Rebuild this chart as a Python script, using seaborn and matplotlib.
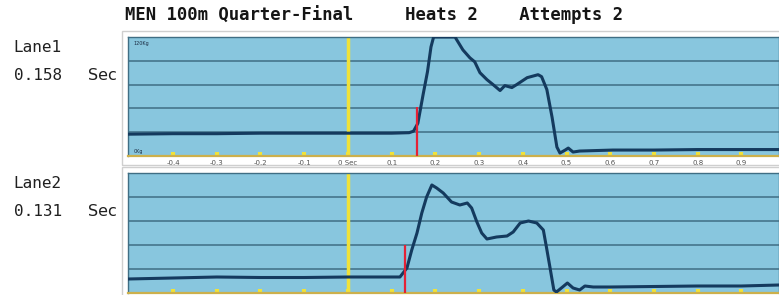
import numpy as np
import pandas as pd
import matplotlib
matplotlib.use("Agg")
import matplotlib.pyplot as plt
from matplotlib.patches import Rectangle
import seaborn as sns

# reaction force traces (kg vs seconds)
lane1_t = [-0.503, -0.4, -0.3, -0.2, -0.1, 0.0, 0.1, 0.14, 0.15, 0.16, 0.172, 0.182,
           0.19, 0.196, 0.245, 0.263, 0.279, 0.29, 0.302, 0.318, 0.332, 0.348, 0.359,
           0.375, 0.386, 0.41, 0.435, 0.443, 0.455, 0.467, 0.478, 0.485, 0.497, 0.504,
           0.515, 0.53, 0.606, 0.7, 0.8, 0.9, 0.986]
lane1_kg = [22, 22.5, 22.5, 23, 23, 23, 23, 23.5, 25, 33, 62, 85,
            110, 120, 120, 107, 99, 95, 84, 77, 72, 66, 71,
            69, 72, 79, 82, 80, 67, 39, 9, 3, 6, 8,
            4, 5, 6, 6, 6.5, 6.5, 6.5]

lane2_t = [-0.503, -0.4, -0.3, -0.2, -0.1, 0.0, 0.1, 0.119, 0.135, 0.146, 0.158, 0.169,
           0.18, 0.192, 0.203, 0.218, 0.237, 0.256, 0.273, 0.283, 0.295, 0.306, 0.318,
           0.34, 0.364, 0.378, 0.394, 0.413, 0.432, 0.447, 0.454, 0.462, 0.471, 0.477,
           0.491, 0.502, 0.515, 0.53, 0.542, 0.561, 0.6, 0.7, 0.8, 0.9, 0.986]
lane2_kg = [14, 15, 16, 15.5, 15.5, 16, 16, 16, 25, 43, 60, 80,
            96, 108, 105, 100, 91, 88, 90, 85, 71, 60, 54,
            56, 57, 61, 70, 72, 70, 63, 46, 26, 3, 1,
            6, 10, 5, 3, 7, 6, 6, 6.5, 7, 7, 8]

lanes = ["Lane1", "Lane2"]
reaction = ["0.158", "0.131"]
react_s = [0.158, 0.131]
red_top = [49, 48]
tick_vals = [-0.4, -0.3, -0.2, -0.1, 0.0, 0.1, 0.2, 0.3, 0.4, 0.5, 0.6, 0.7, 0.8, 0.9]
tick_text = ["-0.4", "-0.3", "-0.2", "-0.1", "0 Sec", "0.1", "0.2", "0.3", "0.4",
             "0.5", "0.6", "0.7", "0.8", "0.9"]
title = "MEN 100m Quarter-Final     Heats 2    Attempts 2"

W, H = 779, 295
fig = plt.figure(figsize=(W / 100, H / 100), dpi=100)
fig.patch.set_facecolor("white")

BG = "#88c6de"
GRID = "#3f6e84"
LINE = "#143a5e"
YEL = "#f0e23a"
RED = "#e42236"

def fx(px):
    return px / W

def fy(py):
    return 1 - py / H

# light outer frames around each panel
for top, bot in [(31, 165), (167, 300)]:
    fig.add_artist(Rectangle((fx(122), fy(bot)), fx(700), (bot - top) / H,
                             transform=fig.transFigure, fill=False,
                             edgecolor="#cfcfcf", lw=1))

panels = [(37, 156), (173, 293)]
data = [(lane1_t, lane1_kg), (lane2_t, lane2_kg)]

for i, ((top, bot), (t, kg)) in enumerate(zip(panels, data)):
    ax = fig.add_axes([fx(128), fy(bot), 1 - fx(128), (bot - top) / H])
    ax.set_facecolor(BG)
    df = pd.DataFrame({"t": t, "kg": kg})
    for g in [24, 48, 72, 96]:
        ax.axhline(g, color=GRID, lw=1.1, zorder=1)
    ax.axvline(0, color=YEL, lw=2.5, zorder=2)
    ax.vlines(react_s[i], 0, red_top[i], color=RED, lw=1.6, zorder=4)
    sns.lineplot(data=df, x="t", y="kg", ax=ax, color=LINE, lw=2.2,
                 estimator=None, sort=False, zorder=3)
    ax.set_xlim(-0.503, 0.986)
    ax.set_ylim(0, 120)
    ax.set_xlabel("")
    ax.set_ylabel("")
    ax.set_yticks([])
    ax.set_xticks(tick_vals)
    for s in ["top", "left", "right"]:
        ax.spines[s].set_color(GRID)
        ax.spines[s].set_linewidth(1)
    ax.spines["bottom"].set_color("#ccb04c")
    ax.spines["bottom"].set_linewidth(1.6)
    ax.tick_params(axis="x", direction="in", color=YEL, length=3, width=3,
                   pad=3, labelsize=5, labelcolor="#505050")
    if i == 0:
        ax.set_xticklabels(tick_text)
        ax.text(0.008, 0.97, "120Kg", transform=ax.transAxes, fontsize=3.5,
                color="#1a2a40", va="top", ha="left")
        ax.text(0.008, 0.02, "0Kg", transform=ax.transAxes, fontsize=3.5,
                color="#1a2a40", va="bottom", ha="left")
    else:
        ax.tick_params(labelbottom=False)

    # lane label and reaction time
    fig.text(fx(13), fy(top + 11), lanes[i], fontsize=11.5,
             family="DejaVu Sans Mono", va="center", ha="left", color="#202020")
    fig.text(fx(14), fy(top + 38), reaction[i], fontsize=11.5,
             family="DejaVu Sans Mono", va="center", ha="left", color="#202020")
    fig.text(fx(88), fy(top + 38), "Sec", fontsize=11.5,
             family="DejaVu Sans", va="center", ha="left", color="#202020")

fig.text(fx(125), fy(15), title, fontsize=12.4, family="DejaVu Sans Mono",
         fontweight="bold", va="center", ha="left", color="#151515")

fig.savefig("out.png", dpi=100)
